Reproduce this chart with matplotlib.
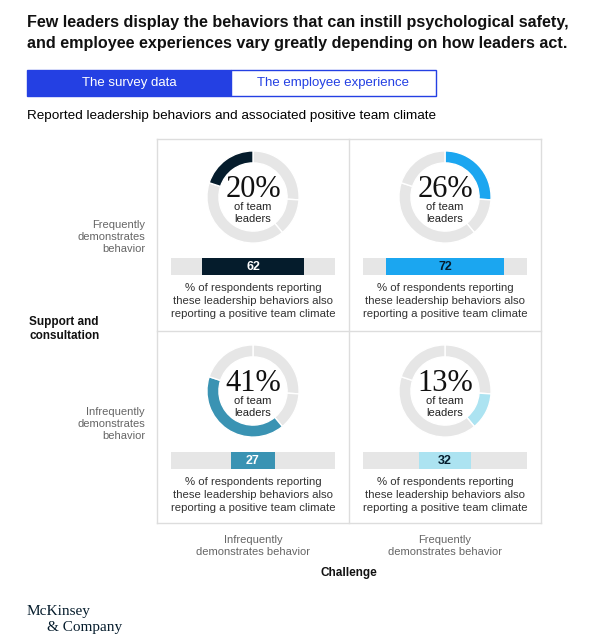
import matplotlib.pyplot as plt

# values
# quadrants in order: top-left, top-right, bottom-left, bottom-right
leader_share = [20, 26, 41, 13]          # % of team leaders
positive_climate = [62, 72, 27, 32]      # % reporting positive team climate
highlight = ["#051c2c", "#1ba6f0", "#3a93b3", "#ace3f1"]
label_color = ["white", "#051c2c", "white", "#051c2c"]
# donut segments clockwise from 12 o'clock (same four shares)
ring_order = [1, 3, 2, 0]

title = ("Few leaders display the behaviors that can instill psychological safety,\n"
         "and employee experiences vary greatly depending on how leaders act.")
tabs = ["The survey data", "The employee experience"]
subtitle = "Reported leadership behaviors and associated positive team climate"
row_labels = ["Frequently\ndemonstrates\nbehavior", "Infrequently\ndemonstrates\nbehavior"]
col_labels = ["Infrequently\ndemonstrates behavior", "Frequently\ndemonstrates behavior"]
caption = ("% of respondents reporting\nthese leadership behaviors also\n"
           "reporting a positive team climate")

W, H = 600, 644
SANS = ["Liberation Sans", "DejaVu Sans"]
SERIF = ["Liberation Serif", "DejaVu Serif"]
RING_GRAY = "#e6e6e6"
BLUE = "#2440e3"

fig = plt.figure(figsize=(6, 6.44), dpi=100)
fig.patch.set_facecolor("white")


def px_axes(x0, y0, w, h):
    return fig.add_axes([x0 / W, 1 - (y0 + h) / H, w / W, h / H])


bg = px_axes(0, 0, W, H)
bg.set_xlim(0, W)
bg.set_ylim(H, 0)
bg.axis("off")

bg.text(27, 33, title, fontsize=11.6, fontweight="bold", family=SANS, color="#111111",
        va="center", ha="left", linespacing=1.45)

# tabs
bg.add_patch(plt.Rectangle((27, 70), 204, 26, facecolor=BLUE, edgecolor=BLUE, lw=1))
bg.add_patch(plt.Rectangle((231, 70), 205, 26, facecolor="white", edgecolor=BLUE, lw=1))
bg.text(129, 83, tabs[0], color="white", fontsize=9.5, family=SANS, ha="center", va="center")
bg.text(333, 83, tabs[1], color=BLUE, fontsize=9.5, family=SANS, ha="center", va="center")

bg.text(27, 116, subtitle, fontsize=9.7, family=SANS, color="#000000", ha="left",
        va="center")

# quadrant grid
x_left, x_mid, x_right = 157, 349, 541
y_top, y_mid, y_bot = 139, 331, 523
gc = "#dddddd"
for x in (x_left, x_mid, x_right):
    bg.plot([x, x], [y_top, y_bot], color=gc, lw=1)
for y in (y_top, y_mid, y_bot):
    bg.plot([x_left, x_right], [y, y], color=gc, lw=1)

# axis labels
bg.text(145, 237, row_labels[0], ha="right", va="center", fontsize=8, color="#666666",
        family=SANS, linespacing=1.3)
bg.text(145, 424, row_labels[1], ha="right", va="center", fontsize=8, color="#666666",
        family=SANS, linespacing=1.3)
bg.text(29, 329, "Support and\nconsultation", ha="left", va="center", fontsize=8.5,
        fontweight="bold", family=SANS, color="#111111", linespacing=1.3)
bg.text(253, 546, col_labels[0], ha="center", va="center", fontsize=8, color="#666666",
        family=SANS, linespacing=1.3)
bg.text(445, 546, col_labels[1], ha="center", va="center", fontsize=8, color="#666666",
        family=SANS, linespacing=1.3)
bg.text(349, 573, "Challenge", ha="center", va="center", fontsize=8.5, fontweight="bold",
        family=SANS, color="#111111")

# logo
bg.text(27, 612, "McKinsey", ha="left", va="center", fontsize=11, family=SERIF, color="#051c2c")
bg.text(47, 627, "& Company", ha="left", va="center", fontsize=11, family=SERIF, color="#051c2c")

centers = [(253, 197), (445, 197), (253, 391), (445, 391)]
for q, (cx, cy) in enumerate(centers):
    # donut: all four shares, this quadrant's one highlighted
    ax = px_axes(cx - 47, cy - 47, 94, 94)
    vals = [leader_share[i] for i in ring_order]
    cols = [highlight[q] if i == q else RING_GRAY for i in ring_order]
    ax.pie(vals, colors=cols, startangle=90, counterclock=False,
           wedgeprops=dict(width=0.26, edgecolor="white", linewidth=1))
    ax.set_xlim(-1.02, 1.02)
    ax.set_ylim(-1.02, 1.02)
    ax.set_aspect("equal")
    ax.axis("off")

    bg.text(cx, cy - 8, f"{leader_share[q]}%", ha="center", va="center", fontsize=22,
            family=SERIF, color="#111111")
    bg.text(cx, cy + 16, "of team\nleaders", ha="center", va="center", fontsize=8,
            family=SANS, color="#222222", linespacing=1.35)

    # climate bar, centred in a 0-100 track
    bx = px_axes(cx - 82, cy + 61, 164, 17)
    v = positive_climate[q]
    bx.barh([0], [100], height=1, color=RING_GRAY)
    bx.barh([0], [v], left=(100 - v) / 2, height=1, color=highlight[q])
    bx.text(50, 0, str(v), ha="center", va="center", fontsize=9, fontweight="bold",
            color=label_color[q], family=SANS)
    bx.set_xlim(0, 100)
    bx.set_ylim(-0.5, 0.5)
    bx.axis("off")

    bg.text(cx, cy + 104, caption, ha="center", va="center", fontsize=8.2, family=SANS,
            color="#333333", linespacing=1.35)

fig.savefig("out.png", dpi=100, facecolor="white")
